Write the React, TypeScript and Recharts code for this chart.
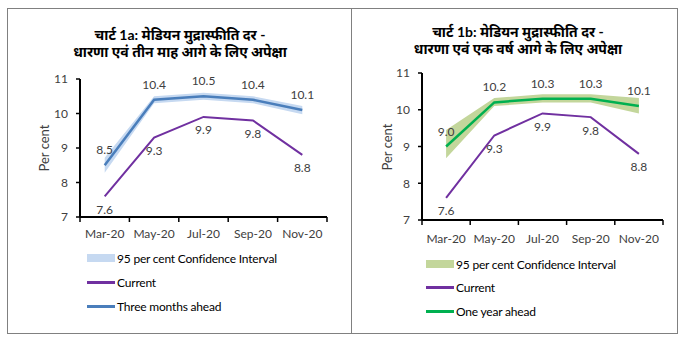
import React from 'react';
import { ComposedChart, Area, Line, XAxis, YAxis, LabelList } from 'recharts';

const months = ['Mar-20', 'May-20', 'Jul-20', 'Sep-20', 'Nov-20'];
const current = [7.6, 9.3, 9.9, 9.8, 8.8];
const threeMonths = [8.5, 10.4, 10.5, 10.4, 10.1];
const threeLow = [8.28, 10.3, 10.4, 10.3, 9.98];
const threeHigh = [8.72, 10.5, 10.6, 10.5, 10.22];
const oneYear = [9.0, 10.2, 10.3, 10.3, 10.1];
const oneLow = [8.68, 10.1, 10.2, 10.2, 9.9];
const oneHigh = [9.45, 10.32, 10.42, 10.42, 10.32];
const yTicks = [7, 8, 9, 10, 11];
const xTicks = [0, 1, 2, 3, 4, 5];

const FONT = 'Lato, "Noto Sans", sans-serif';
const TXT = '#404040';
const PURPLE = '#7030A0';

const fmt = (v: any) => Number(v).toFixed(1);

interface PanelProps {
  left: number;
  width: number;
  height: number;
  margin: { top: number; right: number; bottom: number; left: number };
  title: string[];
  titleTop: number;
  titleCenter: number;
  expect: number[];
  low: number[];
  high: number[];
  lineColor: string;
  bandColor: string;
  expectName: string;
  legendTop: number;
  legendLeft: number;
  legendGap: number;
  labelX: number;
  tickGap: number;
}

function Panel(p: PanelProps) {
  const data = months.map((m, i) => ({
    x: i + 0.5,
    current: current[i],
    expect: p.expect[i],
    ci: [p.low[i], p.high[i]],
  }));
  const plotTop = p.margin.top;
  const plotBottom = p.height - p.margin.bottom - 30;
  const plotWidth = p.width - p.margin.left - 40 - p.margin.right;
  const band = plotWidth / months.length;

  const MonthTick = (props: any) => {
    const { x, y, payload } = props;
    const label = months[payload.value];
    if (!label) return null;
    return (
      <text x={x + band / 2} y={y + p.tickGap} textAnchor="middle" fontSize={12} fill={TXT} fontFamily={FONT}>
        {label}
      </text>
    );
  };

  return (
    <>
      <div style={{ position: 'absolute', left: p.titleCenter - 160, width: 320, top: p.titleTop, textAlign: 'center', fontWeight: 700, fontSize: 14, lineHeight: '17px', color: '#000', fontFamily: FONT }}>
        {p.title.map((t, i) => <div key={i}>{t}</div>)}
      </div>
      <div style={{ position: 'absolute', left: p.left + p.labelX - 60, top: (plotTop + plotBottom) / 2 - 9, width: 120, textAlign: 'center', transform: 'rotate(-90deg)', fontSize: 13, lineHeight: '18px', color: TXT, fontFamily: FONT }}>
        Per cent
      </div>
      <div style={{ position: 'absolute', left: p.left, top: 0 }}>
        <ComposedChart width={p.width} height={p.height} data={data} margin={p.margin}>
          <XAxis dataKey="x" type="number" domain={[0, 5]} ticks={xTicks} axisLine={{ stroke: '#000', strokeWidth: 2 }} tickLine={{ stroke: '#000', strokeWidth: 1.5 }} tickSize={5} height={30} tick={<MonthTick />} interval={0} />
          <YAxis domain={[7, 11]} ticks={yTicks} width={40} axisLine={{ stroke: '#000', strokeWidth: 2 }} tickLine={{ stroke: '#000', strokeWidth: 1.5 }} tickSize={4} tickMargin={8} tick={{ fontSize: 12, fill: TXT, fontFamily: FONT }} />
          <Area type="linear" dataKey="ci" stroke="none" fill={p.bandColor} fillOpacity={1} isAnimationActive={false} />
          <Line type="linear" dataKey="current" stroke={PURPLE} strokeWidth={2} dot={false} isAnimationActive={false}>
            <LabelList dataKey="current" position="bottom" offset={9} formatter={fmt} style={{ fontSize: 12, fill: TXT, fontFamily: FONT }} />
          </Line>
          <Line type="linear" dataKey="expect" stroke={p.lineColor} strokeWidth={2.5} dot={false} isAnimationActive={false}>
            <LabelList dataKey="expect" position="top" offset={11} formatter={fmt} style={{ fontSize: 12, fill: TXT, fontFamily: FONT }} />
          </Line>
        </ComposedChart>
      </div>
      <div style={{ position: 'absolute', left: p.legendLeft, top: p.legendTop, fontSize: 12, letterSpacing: -0.2, color: '#000', fontFamily: FONT }}>
        {[
          { name: '95 per cent Confidence Interval', band: true, color: p.bandColor },
          { name: 'Current', band: false, color: PURPLE },
          { name: p.expectName, band: false, color: p.lineColor },
        ].map((e, i) => (
          <div key={i} style={{ position: 'absolute', top: i * p.legendGap - 9, left: 0, height: 18, display: 'flex', alignItems: 'center', whiteSpace: 'nowrap' }}>
            <div style={{ width: 28, height: e.band ? 8 : 3, background: e.color, marginRight: 2 }} />
            <span>{e.name}</span>
          </div>
        ))}
      </div>
    </>
  );
}

export default function App() {
  return (
    <div style={{ position: 'absolute', left: 0, top: 0, width: 685, height: 341, background: '#fff' }}>
      <div style={{ position: 'absolute', left: 7, top: 8, width: 669, height: 324, border: '1px solid #808080' }} />
      <div style={{ position: 'absolute', left: 351, top: 8, width: 1, height: 325, background: '#808080' }} />
      <Panel
        left={0}
        width={345}
        height={250}
        margin={{ top: 79, right: 18, bottom: 3, left: 40 }}
        title={['चार्ट 1a: मेडियन मुद्रास्फीति दर -', 'धारणा एवं तीन माह आगे के लिए अपेक्षा']}
        titleTop={26}
        titleCenter={180}
        expect={threeMonths}
        low={threeLow}
        high={threeHigh}
        lineColor="#4A7EBB"
        bandColor="#C6D9F1"
        expectName="Three months ahead"
        legendTop={258}
        legendLeft={87}
        legendGap={24}
        labelX={44}
        tickGap={14}
      />
      <Panel
        left={351}
        width={330}
        height={255}
        margin={{ top: 73, right: 18, bottom: 5, left: 31 }}
        title={['चार्ट 1b: मेडियन मुद्रास्फीति दर -', 'धारणा एवं एक वर्ष आगे के लिए अपेक्षा']}
        titleTop={23}
        titleCenter={518}
        expect={oneYear}
        low={oneLow}
        high={oneHigh}
        lineColor="#00B050"
        bandColor="#C3D69B"
        expectName="One year ahead"
        legendTop={264}
        legendLeft={426}
        legendGap={23.5}
        labelX={36}
        tickGap={16}
      />
    </div>
  );
}
